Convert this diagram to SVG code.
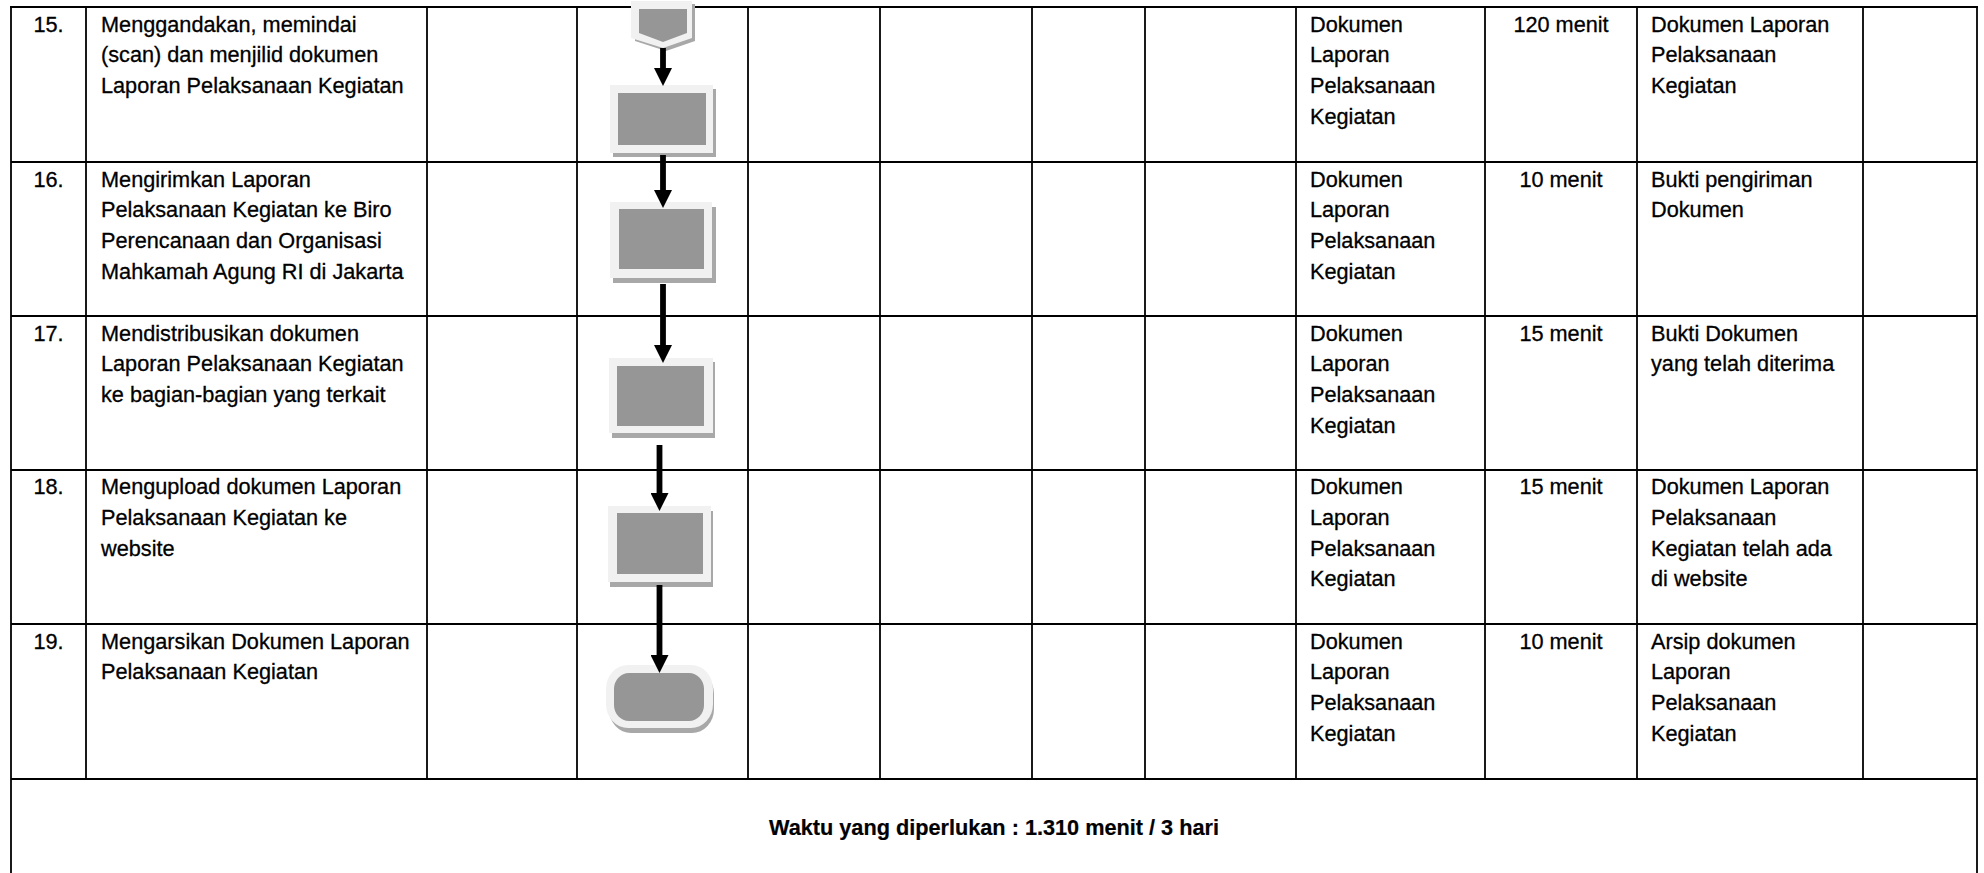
<svg xmlns="http://www.w3.org/2000/svg" width="1984" height="873" viewBox="0 0 1984 873">
<style>
text{font-family:"Liberation Sans",Arial,sans-serif;font-size:21.7px;fill:#000;stroke:#000;stroke-width:0.3}
.b{font-weight:bold;stroke-width:0.2}
.c{text-anchor:middle}
.grid line{stroke:#000;stroke-width:1.8}
.outer{stroke:#000;stroke-width:2.2;fill:none}
.lt{fill:#f1f1f1}
.sh{fill:#a8a8a8}
.in{fill:#969696}
.con{stroke:#000;stroke-width:5.8;fill:none}
</style>
<defs>
<marker id="ah" markerUnits="userSpaceOnUse" markerWidth="18" markerHeight="18" refX="0.5" refY="9" orient="auto">
<path d="M0,0 L18,9 L0,18 z" fill="#000"/>
</marker>
</defs>
<rect width="1984" height="873" fill="#fff"/>
<g id="table" class="grid">
<line x1="11" y1="7" x2="11" y2="873" class="outer"/>
<line x1="1977" y1="7" x2="1977" y2="873" class="outer"/>
<line x1="10" y1="7" x2="1978" y2="7" class="outer"/>
<line x1="11" y1="162" x2="1977" y2="162"/>
<line x1="11" y1="316" x2="1977" y2="316"/>
<line x1="11" y1="470" x2="1977" y2="470"/>
<line x1="11" y1="624" x2="1977" y2="624"/>
<line x1="11" y1="779" x2="1977" y2="779" style="stroke-width:2.2"/>
<line x1="86" y1="7" x2="86" y2="779"/>
<line x1="427" y1="7" x2="427" y2="779"/>
<line x1="577" y1="7" x2="577" y2="779"/>
<line x1="748" y1="7" x2="748" y2="779"/>
<line x1="880" y1="7" x2="880" y2="779"/>
<line x1="1032" y1="7" x2="1032" y2="779"/>
<line x1="1145" y1="7" x2="1145" y2="779"/>
<line x1="1296" y1="7" x2="1296" y2="779"/>
<line x1="1485" y1="7" x2="1485" y2="779"/>
<line x1="1637" y1="7" x2="1637" y2="779"/>
<line x1="1863" y1="7" x2="1863" y2="779"/>
</g>
<g id="row15">
<text x="48.5" y="31.5" class="c">15.</text>
<text x="101" y="31.5">Menggandakan, memindai</text>
<text x="101" y="62.3">(scan) dan menjilid dokumen</text>
<text x="101" y="93.1">Laporan Pelaksanaan Kegiatan</text>
<text x="1310" y="31.5">Dokumen</text>
<text x="1310" y="62.3">Laporan</text>
<text x="1310" y="93.1">Pelaksanaan</text>
<text x="1310" y="123.9">Kegiatan</text>
<text x="1561" y="31.5" class="c">120 menit</text>
<text x="1651" y="31.5">Dokumen Laporan</text>
<text x="1651" y="62.3">Pelaksanaan</text>
<text x="1651" y="93.1">Kegiatan</text>
</g>
<g id="row16">
<text x="48.5" y="186.5" class="c">16.</text>
<text x="101" y="186.5">Mengirimkan Laporan</text>
<text x="101" y="217.3">Pelaksanaan Kegiatan ke Biro</text>
<text x="101" y="248.1">Perencanaan dan Organisasi</text>
<text x="101" y="278.9">Mahkamah Agung RI di Jakarta</text>
<text x="1310" y="186.5">Dokumen</text>
<text x="1310" y="217.3">Laporan</text>
<text x="1310" y="248.1">Pelaksanaan</text>
<text x="1310" y="278.9">Kegiatan</text>
<text x="1561" y="186.5" class="c">10 menit</text>
<text x="1651" y="186.5">Bukti pengiriman</text>
<text x="1651" y="217.3">Dokumen</text>
</g>
<g id="row17">
<text x="48.5" y="340.5" class="c">17.</text>
<text x="101" y="340.5">Mendistribusikan dokumen</text>
<text x="101" y="371.3">Laporan Pelaksanaan Kegiatan</text>
<text x="101" y="402.1">ke bagian-bagian yang terkait</text>
<text x="1310" y="340.5">Dokumen</text>
<text x="1310" y="371.3">Laporan</text>
<text x="1310" y="402.1">Pelaksanaan</text>
<text x="1310" y="432.9">Kegiatan</text>
<text x="1561" y="340.5" class="c">15 menit</text>
<text x="1651" y="340.5">Bukti Dokumen</text>
<text x="1651" y="371.3">yang telah diterima</text>
</g>
<g id="row18">
<text x="48.5" y="494" class="c">18.</text>
<text x="101" y="494">Mengupload dokumen Laporan</text>
<text x="101" y="524.8">Pelaksanaan Kegiatan ke</text>
<text x="101" y="555.6">website</text>
<text x="1310" y="494">Dokumen</text>
<text x="1310" y="524.8">Laporan</text>
<text x="1310" y="555.6">Pelaksanaan</text>
<text x="1310" y="586.4">Kegiatan</text>
<text x="1561" y="494" class="c">15 menit</text>
<text x="1651" y="494">Dokumen Laporan</text>
<text x="1651" y="524.8">Pelaksanaan</text>
<text x="1651" y="555.6">Kegiatan telah ada</text>
<text x="1651" y="586.4">di website</text>
</g>
<g id="row19">
<text x="48.5" y="648.5" class="c">19.</text>
<text x="101" y="648.5">Mengarsikan Dokumen Laporan</text>
<text x="101" y="679.3">Pelaksanaan Kegiatan</text>
<text x="1310" y="648.5">Dokumen</text>
<text x="1310" y="679.3">Laporan</text>
<text x="1310" y="710.1">Pelaksanaan</text>
<text x="1310" y="740.9">Kegiatan</text>
<text x="1561" y="648.5" class="c">10 menit</text>
<text x="1651" y="648.5">Arsip dokumen</text>
<text x="1651" y="679.3">Laporan</text>
<text x="1651" y="710.1">Pelaksanaan</text>
<text x="1651" y="740.9">Kegiatan</text>
</g>
<g id="total">
<text x="994" y="835" class="b c">Waktu yang diperlukan : 1.310 menit / 3 hari</text>
</g>
<g id="offpage">
<polygon class="sh" points="635,4 695,4 695,41 666,51 635,41"/>
<polygon class="lt" points="631,1 692,1 692,38 663,48 631,38"/>
<polygon class="in" points="639,9 687,9 687,33 663,42 639,33"/>
</g>
<g id="proc1">
<rect class="sh" x="613" y="89" width="103" height="68"/>
<rect class="lt" x="610" y="85" width="103" height="68"/>
<rect class="in" x="618" y="93" width="88" height="52"/>
</g>
<g id="proc2">
<rect class="sh" x="613" y="207" width="103" height="76"/>
<rect class="lt" x="610" y="202" width="102" height="76"/>
<rect class="in" x="619" y="209" width="85" height="60"/>
</g>
<g id="proc3">
<rect class="sh" x="612" y="362" width="103" height="76"/>
<rect class="lt" x="609" y="358" width="104" height="75"/>
<rect class="in" x="617" y="366" width="87" height="60"/>
</g>
<g id="proc4">
<rect class="sh" x="610" y="511" width="103" height="76"/>
<rect class="lt" x="608" y="506" width="103" height="76"/>
<rect class="in" x="617" y="513" width="86" height="61"/>
</g>
<g id="end">
<rect class="sh" x="609" y="670" width="105" height="63" rx="22" ry="24"/>
<rect class="lt" x="606" y="665" width="107" height="63" rx="22" ry="24"/>
<rect class="in" x="614" y="673" width="90" height="48" rx="15" ry="16"/>
</g>
<g id="connectors">
<line class="con" x1="663" y1="48" x2="663" y2="68.5" marker-end="url(#ah)"/>
<line class="con" x1="663" y1="155" x2="663" y2="190.5" marker-end="url(#ah)"/>
<line class="con" x1="663" y1="284" x2="663" y2="345.5" marker-end="url(#ah)"/>
<line class="con" x1="659.5" y1="445" x2="659.5" y2="493.5" marker-end="url(#ah)"/>
<line class="con" x1="659.5" y1="585" x2="659.5" y2="655.5" marker-end="url(#ah)"/>
</g>
</svg>
